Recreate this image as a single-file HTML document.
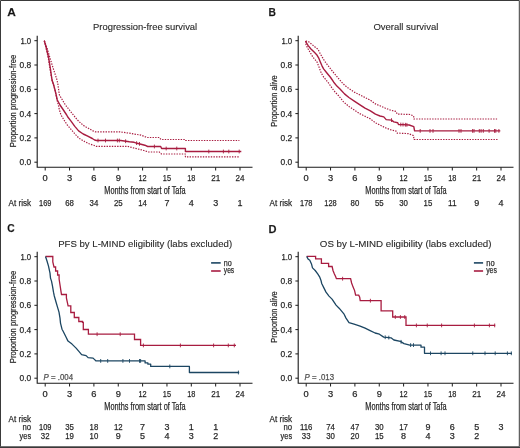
<!DOCTYPE html><html><head><meta charset="utf-8"><style>html,body{margin:0;padding:0;background:#fff;}svg{display:block;font-family:"Liberation Sans",sans-serif;will-change:transform;}text{stroke:#555;stroke-width:0.25px;}text.t{stroke:#2a2a2a;stroke-width:0.12px;fill:#2a2a2a;}</style></head><body>
<svg width="520" height="448" viewBox="0 0 520 448">
<rect x="0" y="0" width="520" height="448" fill="#fff"/>
<text x="7.2" y="16.2" font-size="11" text-anchor="start" font-weight="bold" textLength="8.6" lengthAdjust="spacingAndGlyphs" fill="#111">A</text>
<text x="93.0" y="29.8" font-size="9.8" text-anchor="start" class="t" textLength="104.2" lengthAdjust="spacingAndGlyphs">Progression-free survival</text>
<path d="M37.2,35.8V167.3 H252.5" fill="none" stroke="#1a1a1a" stroke-width="1.1"/>
<path d="M34.400000000000006,40.7H37.2M34.400000000000006,65.0H37.2M34.400000000000006,89.30000000000001H37.2M34.400000000000006,113.60000000000001H37.2M34.400000000000006,137.9H37.2M34.400000000000006,162.2H37.2M45.2,167.3V170.5M69.551,167.3V170.5M93.90200000000002,167.3V170.5M118.25300000000001,167.3V170.5M142.604,167.3V170.5M166.95500000000004,167.3V170.5M191.30600000000004,167.3V170.5M215.65699999999998,167.3V170.5M240.00800000000004,167.3V170.5" fill="none" stroke="#1a1a1a" stroke-width="1"/>
<text x="31.2" y="43.7" font-size="8.4" text-anchor="end" textLength="10.8" lengthAdjust="spacingAndGlyphs">1.0</text>
<text x="31.2" y="68.0" font-size="8.4" text-anchor="end" textLength="11.7" lengthAdjust="spacingAndGlyphs">0.8</text>
<text x="31.2" y="92.30000000000001" font-size="8.4" text-anchor="end" textLength="11.7" lengthAdjust="spacingAndGlyphs">0.6</text>
<text x="31.2" y="116.60000000000001" font-size="8.4" text-anchor="end" textLength="11.7" lengthAdjust="spacingAndGlyphs">0.4</text>
<text x="31.2" y="140.9" font-size="8.4" text-anchor="end" textLength="11.7" lengthAdjust="spacingAndGlyphs">0.2</text>
<text x="31.2" y="165.2" font-size="8.4" text-anchor="end" textLength="11.7" lengthAdjust="spacingAndGlyphs">0.0</text>
<text x="45.2" y="180.5" font-size="8.4" text-anchor="middle" textLength="5.2" lengthAdjust="spacingAndGlyphs">0</text>
<text x="69.551" y="180.5" font-size="8.4" text-anchor="middle" textLength="5.2" lengthAdjust="spacingAndGlyphs">3</text>
<text x="93.90200000000002" y="180.5" font-size="8.4" text-anchor="middle" textLength="5.2" lengthAdjust="spacingAndGlyphs">6</text>
<text x="118.25300000000001" y="180.5" font-size="8.4" text-anchor="middle" textLength="5.2" lengthAdjust="spacingAndGlyphs">9</text>
<text x="142.604" y="180.5" font-size="8.4" text-anchor="middle" textLength="8.2" lengthAdjust="spacingAndGlyphs">12</text>
<text x="166.95500000000004" y="180.5" font-size="8.4" text-anchor="middle" textLength="8.2" lengthAdjust="spacingAndGlyphs">15</text>
<text x="191.30600000000004" y="180.5" font-size="8.4" text-anchor="middle" textLength="8.2" lengthAdjust="spacingAndGlyphs">18</text>
<text x="215.65699999999998" y="180.5" font-size="8.4" text-anchor="middle" textLength="9.0" lengthAdjust="spacingAndGlyphs">21</text>
<text x="240.00800000000004" y="180.5" font-size="8.4" text-anchor="middle" textLength="9.0" lengthAdjust="spacingAndGlyphs">24</text>
<text x="104.3" y="193.8" font-size="10.5" text-anchor="start" textLength="81.3" lengthAdjust="spacingAndGlyphs">Months from start of Tafa</text>
<text x="15.7" y="101" font-size="9.8" text-anchor="middle" textLength="92.3" lengthAdjust="spacingAndGlyphs" transform="rotate(-90 15.7 101)">Proportion progression-free</text>
<path d="M44.3,40.7 L47,48 L50,58 L53.7,70 L55.4,75 L57,80 L58,85 L58.7,90 L59.4,95 L62.4,100 L65.4,105 L69.4,110 L73.4,115 L77.1,119.6 L80.9,123.3 L84.7,126.4 L89.2,128.7 L93,130.9 L95.3,131.8 L119.8,131.8 L129.4,133.2 L134.2,134.1 L141,135.1 L145.8,137 L147,137.5 L159.4,137.5 L160.9,139.5 L184.9,139.5 L185.4,140.5 L239.4,140.5" fill="none" stroke="#a81c40" stroke-width="1.2" stroke-linejoin="round" stroke-dasharray="1.4 1.25"/>
<path d="M44.3,40.7 L46,48 L48.3,58 L50.2,70 L51,75 L52,80 L53.5,85 L55,90 L56,95 L57,100 L58.4,105 L59.4,110 L61,115 L64,120 L67.3,125 L71.8,130.2 L75.6,134.7 L79.4,138.5 L84.7,141.6 L89.2,143.8 L93.8,145.3 L96,146.3 L127.5,146.3 L132.3,147.6 L138.1,149 L143.8,150.5 L148.7,152 L159.4,152 L161.4,154 L185.4,154 L185.4,156.8 L239.4,156.8" fill="none" stroke="#a81c40" stroke-width="1.2" stroke-linejoin="round" stroke-dasharray="1.4 1.25"/>
<path d="M44.3,40.7 L46.4,48 L48.7,58 L50.6,70 L52,80 L53.7,85 L55,90 L56.2,95 L57.3,100 L60,105 L63.4,110 L66.7,115 L68,117.3 L71,121.1 L74.8,126.4 L78.6,130.9 L83.2,134 L87.7,136.2 L92.3,138.5 L94.6,140 L96.5,140.5 L120.8,140.5 L129.4,141.8 L134.2,142.3 L137.1,143.3 L141,144.2 L144.8,145.2 L147.7,146.5 L160.7,146.5 L161.6,148.5 L185.4,148.5 L185.4,151.5 L241.3,151.5" fill="none" stroke="#a81c40" stroke-width="1.4" stroke-linejoin="round"/>
<path d="M98,138.6V142.4M105.5,138.6V142.4M117.4,138.6V142.4M119.3,138.6V142.4M125.6,139.32558139534885V143.12558139534886M136.6,141.22758620689655V145.02758620689656M139.5,141.95384615384614V145.75384615384615M154.4,144.6V148.4M166.2,146.6V150.4M176.75,146.6V150.4M208.8,149.6V153.4M223.4,149.6V153.4M228.8,149.6V153.4M239.2,149.6V153.4" fill="none" stroke="#a81c40" stroke-width="0.9"/>
<text x="45.2" y="205.6" font-size="8.4" text-anchor="middle" textLength="12.4" lengthAdjust="spacingAndGlyphs">169</text>
<text x="69.551" y="205.6" font-size="8.4" text-anchor="middle" textLength="8.7" lengthAdjust="spacingAndGlyphs">68</text>
<text x="93.90200000000002" y="205.6" font-size="8.4" text-anchor="middle" textLength="8.7" lengthAdjust="spacingAndGlyphs">34</text>
<text x="118.25300000000001" y="205.6" font-size="8.4" text-anchor="middle" textLength="8.7" lengthAdjust="spacingAndGlyphs">25</text>
<text x="142.604" y="205.6" font-size="8.4" text-anchor="middle" textLength="8.7" lengthAdjust="spacingAndGlyphs">14</text>
<text x="166.95500000000004" y="205.6" font-size="8.4" text-anchor="middle" textLength="5.0" lengthAdjust="spacingAndGlyphs">7</text>
<text x="191.30600000000004" y="205.6" font-size="8.4" text-anchor="middle" textLength="5.0" lengthAdjust="spacingAndGlyphs">4</text>
<text x="215.65699999999998" y="205.6" font-size="8.4" text-anchor="middle" textLength="5.0" lengthAdjust="spacingAndGlyphs">3</text>
<text x="240.00800000000004" y="205.6" font-size="8.4" text-anchor="middle" textLength="5.0" lengthAdjust="spacingAndGlyphs">1</text>
<text x="8.6" y="205.6" font-size="8.4" text-anchor="start" textLength="22.5" lengthAdjust="spacingAndGlyphs">At risk</text>
<text x="268.6" y="16.2" font-size="11" text-anchor="start" font-weight="bold" textLength="7.4" lengthAdjust="spacingAndGlyphs" fill="#111">B</text>
<text x="373.4" y="30.2" font-size="9.8" text-anchor="start" class="t" textLength="64.9" lengthAdjust="spacingAndGlyphs">Overall survival</text>
<path d="M298.2,35.8V167.3 H513.5" fill="none" stroke="#1a1a1a" stroke-width="1.1"/>
<path d="M295.4,40.7H298.2M295.4,65.0H298.2M295.4,89.30000000000001H298.2M295.4,113.60000000000001H298.2M295.4,137.9H298.2M295.4,162.2H298.2M306.2,167.3V170.5M330.551,167.3V170.5M354.902,167.3V170.5M379.253,167.3V170.5M403.604,167.3V170.5M427.95500000000004,167.3V170.5M452.30600000000004,167.3V170.5M476.657,167.3V170.5M501.00800000000004,167.3V170.5" fill="none" stroke="#1a1a1a" stroke-width="1"/>
<text x="292.2" y="43.7" font-size="8.4" text-anchor="end" textLength="10.8" lengthAdjust="spacingAndGlyphs">1.0</text>
<text x="292.2" y="68.0" font-size="8.4" text-anchor="end" textLength="11.7" lengthAdjust="spacingAndGlyphs">0.8</text>
<text x="292.2" y="92.30000000000001" font-size="8.4" text-anchor="end" textLength="11.7" lengthAdjust="spacingAndGlyphs">0.6</text>
<text x="292.2" y="116.60000000000001" font-size="8.4" text-anchor="end" textLength="11.7" lengthAdjust="spacingAndGlyphs">0.4</text>
<text x="292.2" y="140.9" font-size="8.4" text-anchor="end" textLength="11.7" lengthAdjust="spacingAndGlyphs">0.2</text>
<text x="292.2" y="165.2" font-size="8.4" text-anchor="end" textLength="11.7" lengthAdjust="spacingAndGlyphs">0.0</text>
<text x="306.2" y="180.5" font-size="8.4" text-anchor="middle" textLength="5.2" lengthAdjust="spacingAndGlyphs">0</text>
<text x="330.551" y="180.5" font-size="8.4" text-anchor="middle" textLength="5.2" lengthAdjust="spacingAndGlyphs">3</text>
<text x="354.902" y="180.5" font-size="8.4" text-anchor="middle" textLength="5.2" lengthAdjust="spacingAndGlyphs">6</text>
<text x="379.253" y="180.5" font-size="8.4" text-anchor="middle" textLength="5.2" lengthAdjust="spacingAndGlyphs">9</text>
<text x="403.604" y="180.5" font-size="8.4" text-anchor="middle" textLength="8.2" lengthAdjust="spacingAndGlyphs">12</text>
<text x="427.95500000000004" y="180.5" font-size="8.4" text-anchor="middle" textLength="8.2" lengthAdjust="spacingAndGlyphs">15</text>
<text x="452.30600000000004" y="180.5" font-size="8.4" text-anchor="middle" textLength="8.2" lengthAdjust="spacingAndGlyphs">18</text>
<text x="476.657" y="180.5" font-size="8.4" text-anchor="middle" textLength="9.0" lengthAdjust="spacingAndGlyphs">21</text>
<text x="501.00800000000004" y="180.5" font-size="8.4" text-anchor="middle" textLength="9.0" lengthAdjust="spacingAndGlyphs">24</text>
<text x="365.3" y="193.8" font-size="10.5" text-anchor="start" textLength="81.3" lengthAdjust="spacingAndGlyphs">Months from start of Tafa</text>
<text x="276.7" y="101" font-size="9.8" text-anchor="middle" textLength="51.5" lengthAdjust="spacingAndGlyphs" transform="rotate(-90 276.7 101)">Proportion alive</text>
<path d="M305.7,41 L308.7,41.8 L311.4,44 L314.7,46.7 L318.1,49.4 L319.4,52.1 L320.8,54.7 L322.8,58.1 L324.8,61.4 L327.5,64.9 L330.6,68.9 L333.75,72.8 L337.7,77.5 L341.6,82.2 L344.7,85.3 L348.9,88.6 L354.3,92.1 L359.6,94.8 L365,97.5 L370.4,100.2 L375.4,103.9 L380,105.8 L385,108 L390,110 L396.1,111.5 L397.1,114 L410.2,114.5 L413.6,116 L413.9,119 L497.1,119" fill="none" stroke="#a81c40" stroke-width="1.2" stroke-linejoin="round" stroke-dasharray="1.4 1.25"/>
<path d="M305.7,41 L306,44.7 L308,48.7 L310.7,53.4 L312.7,56.75 L314.7,59.4 L316.7,61.4 L318.1,64.8 L319.4,68 L320.5,71.25 L322.8,75.9 L325.9,79.8 L329.1,83.75 L332.2,88.4 L335.3,92.3 L338.4,95.5 L340.5,98 L343.6,102 L348.9,106.4 L354.3,110 L359.6,113.6 L365,116.25 L370.4,118.9 L375.4,122.8 L380,125.1 L385,127.6 L390,129.6 L396.1,131.1 L397.1,133.1 L408.1,133.6 L413.5,135.5 L414,139.5 L498.5,139.5" fill="none" stroke="#a81c40" stroke-width="1.2" stroke-linejoin="round" stroke-dasharray="1.4 1.25"/>
<path d="M305.7,41 L306,42 L308,45.4 L310.7,48.7 L314.1,52.1 L316.7,54.7 L318.75,58.1 L320.1,61.4 L322.1,66.1 L323.6,68.9 L326.7,72.8 L330.6,77.5 L333.75,82.2 L336.9,86.1 L340,89 L344.5,93.9 L348.9,97.5 L354.3,101.1 L359.6,104.6 L365,108.2 L370.4,110.9 L375.4,114.2 L380,116 L383.8,116.9 L386.2,119.6 L391.5,120.1 L393.8,121.9 L397.7,122.7 L398.5,124.5 L403,124.6 L409.2,125 L413.8,126.6 L414.6,130.9 L500.3,130.9" fill="none" stroke="#a81c40" stroke-width="1.4" stroke-linejoin="round"/>
<path d="M391.5,118.19999999999999V122.0M400.8,122.6511111111111V126.45111111111112M403,122.69999999999999V126.5M405.4,122.85483870967741V126.65483870967742M406.9,122.9516129032258V126.7516129032258M420.2,129.0V132.8M430,129.0V132.8M433,129.0V132.8M459,129.0V132.8M461,129.0V132.8M472.6,129.0V132.8M474,129.0V132.8M479.3,129.0V132.8M481.1,129.0V132.8M483.3,129.0V132.8M489.1,129.0V132.8M494.5,129.0V132.8M495.8,129.0V132.8M498.9,129.0V132.8" fill="none" stroke="#a81c40" stroke-width="0.9"/>
<text x="306.2" y="205.6" font-size="8.4" text-anchor="middle" textLength="12.4" lengthAdjust="spacingAndGlyphs">178</text>
<text x="330.551" y="205.6" font-size="8.4" text-anchor="middle" textLength="12.4" lengthAdjust="spacingAndGlyphs">128</text>
<text x="354.902" y="205.6" font-size="8.4" text-anchor="middle" textLength="8.7" lengthAdjust="spacingAndGlyphs">80</text>
<text x="379.253" y="205.6" font-size="8.4" text-anchor="middle" textLength="8.7" lengthAdjust="spacingAndGlyphs">55</text>
<text x="403.604" y="205.6" font-size="8.4" text-anchor="middle" textLength="8.7" lengthAdjust="spacingAndGlyphs">30</text>
<text x="427.95500000000004" y="205.6" font-size="8.4" text-anchor="middle" textLength="8.7" lengthAdjust="spacingAndGlyphs">15</text>
<text x="452.30600000000004" y="205.6" font-size="8.4" text-anchor="middle" textLength="8.7" lengthAdjust="spacingAndGlyphs">11</text>
<text x="476.657" y="205.6" font-size="8.4" text-anchor="middle" textLength="5.0" lengthAdjust="spacingAndGlyphs">9</text>
<text x="501.00800000000004" y="205.6" font-size="8.4" text-anchor="middle" textLength="5.0" lengthAdjust="spacingAndGlyphs">4</text>
<text x="269.6" y="205.6" font-size="8.4" text-anchor="start" textLength="22.5" lengthAdjust="spacingAndGlyphs">At risk</text>
<text x="7.2" y="232.2" font-size="11" text-anchor="start" font-weight="bold" textLength="7.4" lengthAdjust="spacingAndGlyphs" fill="#111">C</text>
<text x="58.2" y="246.7" font-size="9.7" text-anchor="start" class="t" textLength="173.9" lengthAdjust="spacingAndGlyphs">PFS by L-MIND eligibility (labs excluded)</text>
<path d="M37.2,251.8V383.3 H252.5" fill="none" stroke="#1a1a1a" stroke-width="1.1"/>
<path d="M34.400000000000006,256.7H37.2M34.400000000000006,281.0H37.2M34.400000000000006,305.3H37.2M34.400000000000006,329.6H37.2M34.400000000000006,353.9H37.2M34.400000000000006,378.2H37.2M45.2,383.3V386.5M69.551,383.3V386.5M93.90200000000002,383.3V386.5M118.25300000000001,383.3V386.5M142.604,383.3V386.5M166.95500000000004,383.3V386.5M191.30600000000004,383.3V386.5M215.65699999999998,383.3V386.5M240.00800000000004,383.3V386.5" fill="none" stroke="#1a1a1a" stroke-width="1"/>
<text x="31.2" y="259.7" font-size="8.4" text-anchor="end" textLength="10.8" lengthAdjust="spacingAndGlyphs">1.0</text>
<text x="31.2" y="284.0" font-size="8.4" text-anchor="end" textLength="11.7" lengthAdjust="spacingAndGlyphs">0.8</text>
<text x="31.2" y="308.3" font-size="8.4" text-anchor="end" textLength="11.7" lengthAdjust="spacingAndGlyphs">0.6</text>
<text x="31.2" y="332.6" font-size="8.4" text-anchor="end" textLength="11.7" lengthAdjust="spacingAndGlyphs">0.4</text>
<text x="31.2" y="356.9" font-size="8.4" text-anchor="end" textLength="11.7" lengthAdjust="spacingAndGlyphs">0.2</text>
<text x="31.2" y="381.2" font-size="8.4" text-anchor="end" textLength="11.7" lengthAdjust="spacingAndGlyphs">0.0</text>
<text x="45.2" y="396.5" font-size="8.4" text-anchor="middle" textLength="5.2" lengthAdjust="spacingAndGlyphs">0</text>
<text x="69.551" y="396.5" font-size="8.4" text-anchor="middle" textLength="5.2" lengthAdjust="spacingAndGlyphs">3</text>
<text x="93.90200000000002" y="396.5" font-size="8.4" text-anchor="middle" textLength="5.2" lengthAdjust="spacingAndGlyphs">6</text>
<text x="118.25300000000001" y="396.5" font-size="8.4" text-anchor="middle" textLength="5.2" lengthAdjust="spacingAndGlyphs">9</text>
<text x="142.604" y="396.5" font-size="8.4" text-anchor="middle" textLength="8.2" lengthAdjust="spacingAndGlyphs">12</text>
<text x="166.95500000000004" y="396.5" font-size="8.4" text-anchor="middle" textLength="8.2" lengthAdjust="spacingAndGlyphs">15</text>
<text x="191.30600000000004" y="396.5" font-size="8.4" text-anchor="middle" textLength="8.2" lengthAdjust="spacingAndGlyphs">18</text>
<text x="215.65699999999998" y="396.5" font-size="8.4" text-anchor="middle" textLength="9.0" lengthAdjust="spacingAndGlyphs">21</text>
<text x="240.00800000000004" y="396.5" font-size="8.4" text-anchor="middle" textLength="9.0" lengthAdjust="spacingAndGlyphs">24</text>
<text x="104.3" y="409.8" font-size="10.5" text-anchor="start" textLength="81.3" lengthAdjust="spacingAndGlyphs">Months from start of Tafa</text>
<text x="15.7" y="317" font-size="9.8" text-anchor="middle" textLength="92.3" lengthAdjust="spacingAndGlyphs" transform="rotate(-90 15.7 317)">Proportion progression-free</text>
<path d="M45.5,256.5 H52.8 V262 L54,267 H55.6 V271 H57.6 V275 H59.1 V279 L61.1,292.2 L61.5,294.5 H66.4 V298 L68.1,305.8 H70.8 V312.5 H74.3 V317.5 H78.8 V321.5 H82.5 V322.3 H83.3 V329.5 H88.4 V334.2 H134.5 V339.5 H140.6 V345.4 H236" fill="none" stroke="#a81c40" stroke-width="1.3"/>
<path d="M45.5,256.5 L47,261 L48.5,266.1 L50,273.1 L50.5,278.1 L51.5,281.1 L52.5,286.1 L53.5,292.2 L54.3,296 L56,302 L57.5,307.1 L59,312.1 L60,318.1 L60.5,323.1 L62,329.2 L63,331 L66,337 L68,341.1 L72,344.1 L76.1,348.1 L79.1,351.6 L81.6,354.6 L86.1,355.6 L88.1,357.6 L93.1,358.1 L95.1,360.1 L96,360.9 L145.1,360.9 L145.1,362.9 L147.9,362.9 L147.9,364.2 L150.7,364.2 L150.7,366.4 L189.4,366.4 L189.4,372.5 L239.2,372.5" fill="none" stroke="#1c4662" stroke-width="1.3" stroke-linejoin="round"/>
<path d="M97.1,332.3V336.09999999999997M120.2,332.3V336.09999999999997M143.4,343.5V347.29999999999995M180.4,343.5V347.29999999999995M213.6,343.5V347.29999999999995M228.3,343.5V347.29999999999995M234.3,343.5V347.29999999999995" fill="none" stroke="#a81c40" stroke-width="0.9"/>
<path d="M100.7,359.0V362.79999999999995M107.7,359.0V362.79999999999995M122.9,359.0V362.79999999999995M129.5,359.0V362.79999999999995M139.5,359.0V362.79999999999995M140.6,359.0V362.79999999999995M169.8,364.5V368.29999999999995M238.4,370.6V374.4" fill="none" stroke="#1c4662" stroke-width="0.9"/>
<path d="M211.1,262.9H220.7" stroke="#1c4662" stroke-width="1.6"/>
<path d="M211.1,271H220.7" stroke="#a81c40" stroke-width="1.6"/>
<text x="223.8" y="265.6" font-size="8.4" text-anchor="start" textLength="8.0" lengthAdjust="spacingAndGlyphs">no</text>
<text x="223.8" y="273.4" font-size="8.4" text-anchor="start" textLength="10.4" lengthAdjust="spacingAndGlyphs">yes</text>
<text x="43.6" y="379.9" font-size="8.4" fill="#505050" textLength="29.4" lengthAdjust="spacingAndGlyphs"><tspan font-style="italic">P</tspan> = .004</text>
<text x="8.6" y="421.7" font-size="8.4" text-anchor="start" textLength="22.5" lengthAdjust="spacingAndGlyphs">At risk</text>
<text x="31.1" y="429.8" font-size="8.4" text-anchor="end" textLength="8.6" lengthAdjust="spacingAndGlyphs">no</text>
<text x="31.1" y="439.2" font-size="8.4" text-anchor="end" textLength="11.5" lengthAdjust="spacingAndGlyphs">yes</text>
<text x="45.2" y="429.8" font-size="8.4" text-anchor="middle" textLength="12.4" lengthAdjust="spacingAndGlyphs">109</text>
<text x="69.551" y="429.8" font-size="8.4" text-anchor="middle" textLength="8.7" lengthAdjust="spacingAndGlyphs">35</text>
<text x="93.90200000000002" y="429.8" font-size="8.4" text-anchor="middle" textLength="8.7" lengthAdjust="spacingAndGlyphs">18</text>
<text x="118.25300000000001" y="429.8" font-size="8.4" text-anchor="middle" textLength="8.7" lengthAdjust="spacingAndGlyphs">12</text>
<text x="142.604" y="429.8" font-size="8.4" text-anchor="middle" textLength="5.0" lengthAdjust="spacingAndGlyphs">7</text>
<text x="166.95500000000004" y="429.8" font-size="8.4" text-anchor="middle" textLength="5.0" lengthAdjust="spacingAndGlyphs">3</text>
<text x="191.30600000000004" y="429.8" font-size="8.4" text-anchor="middle" textLength="5.0" lengthAdjust="spacingAndGlyphs">1</text>
<text x="215.65699999999998" y="429.8" font-size="8.4" text-anchor="middle" textLength="5.0" lengthAdjust="spacingAndGlyphs">1</text>
<text x="45.2" y="439.2" font-size="8.4" text-anchor="middle" textLength="8.7" lengthAdjust="spacingAndGlyphs">32</text>
<text x="69.551" y="439.2" font-size="8.4" text-anchor="middle" textLength="8.7" lengthAdjust="spacingAndGlyphs">19</text>
<text x="93.90200000000002" y="439.2" font-size="8.4" text-anchor="middle" textLength="8.7" lengthAdjust="spacingAndGlyphs">10</text>
<text x="118.25300000000001" y="439.2" font-size="8.4" text-anchor="middle" textLength="5.0" lengthAdjust="spacingAndGlyphs">9</text>
<text x="142.604" y="439.2" font-size="8.4" text-anchor="middle" textLength="5.0" lengthAdjust="spacingAndGlyphs">5</text>
<text x="166.95500000000004" y="439.2" font-size="8.4" text-anchor="middle" textLength="5.0" lengthAdjust="spacingAndGlyphs">4</text>
<text x="191.30600000000004" y="439.2" font-size="8.4" text-anchor="middle" textLength="5.0" lengthAdjust="spacingAndGlyphs">3</text>
<text x="215.65699999999998" y="439.2" font-size="8.4" text-anchor="middle" textLength="5.0" lengthAdjust="spacingAndGlyphs">2</text>
<text x="268.6" y="232.6" font-size="11" text-anchor="start" font-weight="bold" textLength="8.0" lengthAdjust="spacingAndGlyphs" fill="#111">D</text>
<text x="319.8" y="246.8" font-size="9.7" text-anchor="start" class="t" textLength="171.7" lengthAdjust="spacingAndGlyphs">OS by L-MIND eligibility (labs excluded)</text>
<path d="M298.2,251.8V383.3 H513.5" fill="none" stroke="#1a1a1a" stroke-width="1.1"/>
<path d="M295.4,256.7H298.2M295.4,281.0H298.2M295.4,305.3H298.2M295.4,329.6H298.2M295.4,353.9H298.2M295.4,378.2H298.2M306.2,383.3V386.5M330.551,383.3V386.5M354.902,383.3V386.5M379.253,383.3V386.5M403.604,383.3V386.5M427.95500000000004,383.3V386.5M452.30600000000004,383.3V386.5M476.657,383.3V386.5M501.00800000000004,383.3V386.5" fill="none" stroke="#1a1a1a" stroke-width="1"/>
<text x="292.2" y="259.7" font-size="8.4" text-anchor="end" textLength="10.8" lengthAdjust="spacingAndGlyphs">1.0</text>
<text x="292.2" y="284.0" font-size="8.4" text-anchor="end" textLength="11.7" lengthAdjust="spacingAndGlyphs">0.8</text>
<text x="292.2" y="308.3" font-size="8.4" text-anchor="end" textLength="11.7" lengthAdjust="spacingAndGlyphs">0.6</text>
<text x="292.2" y="332.6" font-size="8.4" text-anchor="end" textLength="11.7" lengthAdjust="spacingAndGlyphs">0.4</text>
<text x="292.2" y="356.9" font-size="8.4" text-anchor="end" textLength="11.7" lengthAdjust="spacingAndGlyphs">0.2</text>
<text x="292.2" y="381.2" font-size="8.4" text-anchor="end" textLength="11.7" lengthAdjust="spacingAndGlyphs">0.0</text>
<text x="306.2" y="396.5" font-size="8.4" text-anchor="middle" textLength="5.2" lengthAdjust="spacingAndGlyphs">0</text>
<text x="330.551" y="396.5" font-size="8.4" text-anchor="middle" textLength="5.2" lengthAdjust="spacingAndGlyphs">3</text>
<text x="354.902" y="396.5" font-size="8.4" text-anchor="middle" textLength="5.2" lengthAdjust="spacingAndGlyphs">6</text>
<text x="379.253" y="396.5" font-size="8.4" text-anchor="middle" textLength="5.2" lengthAdjust="spacingAndGlyphs">9</text>
<text x="403.604" y="396.5" font-size="8.4" text-anchor="middle" textLength="8.2" lengthAdjust="spacingAndGlyphs">12</text>
<text x="427.95500000000004" y="396.5" font-size="8.4" text-anchor="middle" textLength="8.2" lengthAdjust="spacingAndGlyphs">15</text>
<text x="452.30600000000004" y="396.5" font-size="8.4" text-anchor="middle" textLength="8.2" lengthAdjust="spacingAndGlyphs">18</text>
<text x="476.657" y="396.5" font-size="8.4" text-anchor="middle" textLength="9.0" lengthAdjust="spacingAndGlyphs">21</text>
<text x="501.00800000000004" y="396.5" font-size="8.4" text-anchor="middle" textLength="9.0" lengthAdjust="spacingAndGlyphs">24</text>
<text x="365.3" y="409.8" font-size="10.5" text-anchor="start" textLength="81.3" lengthAdjust="spacingAndGlyphs">Months from start of Tafa</text>
<text x="276.7" y="317" font-size="9.8" text-anchor="middle" textLength="51.5" lengthAdjust="spacingAndGlyphs" transform="rotate(-90 276.7 317)">Proportion alive</text>
<path d="M306.7,256.4 H315.6 V258.9 H321.4 V263.4 H328.6 V266.5 H332.1 L333,270.5 L334.4,274.1 L335.7,276.8 L336.4,278.7 H350.6 L351.6,283 L353.1,287.1 L354.6,290.6 L355.6,295.1 H358.7 L359.7,297.1 L360.2,300.7 H381.1 V310.8 H392.7 V317 H406 V325.4 H495.2" fill="none" stroke="#a81c40" stroke-width="1.3"/>
<path d="M306.7,256.4 L308,258.9 L309.8,260.3 L311.6,264.3 L312.5,267.9 L315.2,270.5 L317.9,274.1 L319.6,276.8 L321,280.4 L321.7,283.5 L324,288.1 L326,292.1 L329,296.1 L332.05,299.1 L334.06,302.1 L336.06,305.1 L339.1,308.2 L341.6,311.2 L344.1,314.2 L346,318.1 L349,322.6 L354.1,324.1 L360.1,326.1 L365.1,328.1 L370.1,330.6 L375.1,333 L379.4,334.2 L383.7,337.1 L391,337.8 L393.9,340 L400.4,341.4 L404,343.6 L409.8,345.1 L421,345.1 L421,347.2 L424.5,347.2 L424.5,353.3 L512,353.3" fill="none" stroke="#1c4662" stroke-width="1.3" stroke-linejoin="round"/>
<path d="M342.6,276.8V280.59999999999997M370.4,298.8V302.59999999999997M395.3,315.1V318.9M400.4,315.1V318.9M404.75,315.1V318.9M416.4,323.5V327.29999999999995M427.25,323.5V327.29999999999995M441.6,323.5V327.29999999999995M474.4,323.5V327.29999999999995M489.4,323.5V327.29999999999995M494.7,323.5V327.29999999999995" fill="none" stroke="#a81c40" stroke-width="0.9"/>
<path d="M385.2,335.3438356164384V339.14383561643837M388.8,335.68904109589045V339.4890410958904M401.1,339.9277777777778V343.72777777777776M410.6,343.20000000000005V347.0M413.5,343.20000000000005V347.0M430.5,351.40000000000003V355.2M441.1,351.40000000000003V355.2M445,351.40000000000003V355.2M472.75,351.40000000000003V355.2M485,351.40000000000003V355.2M495.2,351.40000000000003V355.2M507.4,351.40000000000003V355.2M511.3,351.40000000000003V355.2" fill="none" stroke="#1c4662" stroke-width="0.9"/>
<path d="M473.9,262.9H483.1" stroke="#1c4662" stroke-width="1.6"/>
<path d="M473.9,271H483.1" stroke="#a81c40" stroke-width="1.6"/>
<text x="486.2" y="265.6" font-size="8.4" text-anchor="start" textLength="8.4" lengthAdjust="spacingAndGlyphs">no</text>
<text x="486.2" y="273.4" font-size="8.4" text-anchor="start" textLength="10.7" lengthAdjust="spacingAndGlyphs">yes</text>
<text x="304.6" y="379.9" font-size="8.4" fill="#505050" textLength="29.4" lengthAdjust="spacingAndGlyphs"><tspan font-style="italic">P</tspan> = .013</text>
<text x="269.6" y="421.7" font-size="8.4" text-anchor="start" textLength="22.5" lengthAdjust="spacingAndGlyphs">At risk</text>
<text x="292.1" y="429.8" font-size="8.4" text-anchor="end" textLength="8.6" lengthAdjust="spacingAndGlyphs">no</text>
<text x="292.1" y="439.2" font-size="8.4" text-anchor="end" textLength="11.5" lengthAdjust="spacingAndGlyphs">yes</text>
<text x="306.2" y="429.8" font-size="8.4" text-anchor="middle" textLength="12.4" lengthAdjust="spacingAndGlyphs">116</text>
<text x="330.551" y="429.8" font-size="8.4" text-anchor="middle" textLength="8.7" lengthAdjust="spacingAndGlyphs">74</text>
<text x="354.902" y="429.8" font-size="8.4" text-anchor="middle" textLength="8.7" lengthAdjust="spacingAndGlyphs">47</text>
<text x="379.253" y="429.8" font-size="8.4" text-anchor="middle" textLength="8.7" lengthAdjust="spacingAndGlyphs">30</text>
<text x="403.604" y="429.8" font-size="8.4" text-anchor="middle" textLength="8.7" lengthAdjust="spacingAndGlyphs">17</text>
<text x="427.95500000000004" y="429.8" font-size="8.4" text-anchor="middle" textLength="5.0" lengthAdjust="spacingAndGlyphs">9</text>
<text x="452.30600000000004" y="429.8" font-size="8.4" text-anchor="middle" textLength="5.0" lengthAdjust="spacingAndGlyphs">6</text>
<text x="476.657" y="429.8" font-size="8.4" text-anchor="middle" textLength="5.0" lengthAdjust="spacingAndGlyphs">5</text>
<text x="501.00800000000004" y="429.8" font-size="8.4" text-anchor="middle" textLength="5.0" lengthAdjust="spacingAndGlyphs">3</text>
<text x="306.2" y="439.2" font-size="8.4" text-anchor="middle" textLength="8.7" lengthAdjust="spacingAndGlyphs">33</text>
<text x="330.551" y="439.2" font-size="8.4" text-anchor="middle" textLength="8.7" lengthAdjust="spacingAndGlyphs">30</text>
<text x="354.902" y="439.2" font-size="8.4" text-anchor="middle" textLength="8.7" lengthAdjust="spacingAndGlyphs">20</text>
<text x="379.253" y="439.2" font-size="8.4" text-anchor="middle" textLength="8.7" lengthAdjust="spacingAndGlyphs">15</text>
<text x="403.604" y="439.2" font-size="8.4" text-anchor="middle" textLength="5.0" lengthAdjust="spacingAndGlyphs">8</text>
<text x="427.95500000000004" y="439.2" font-size="8.4" text-anchor="middle" textLength="5.0" lengthAdjust="spacingAndGlyphs">4</text>
<text x="452.30600000000004" y="439.2" font-size="8.4" text-anchor="middle" textLength="5.0" lengthAdjust="spacingAndGlyphs">3</text>
<text x="476.657" y="439.2" font-size="8.4" text-anchor="middle" textLength="5.0" lengthAdjust="spacingAndGlyphs">2</text>
<path d="M0.5,0.5H519.3V446.8H0.5Z" fill="none" stroke="#3a3a3a" stroke-width="1"/>
<path d="M0,447.5H520" stroke="#3a3a3a" stroke-width="1"/>
</svg></body></html>
